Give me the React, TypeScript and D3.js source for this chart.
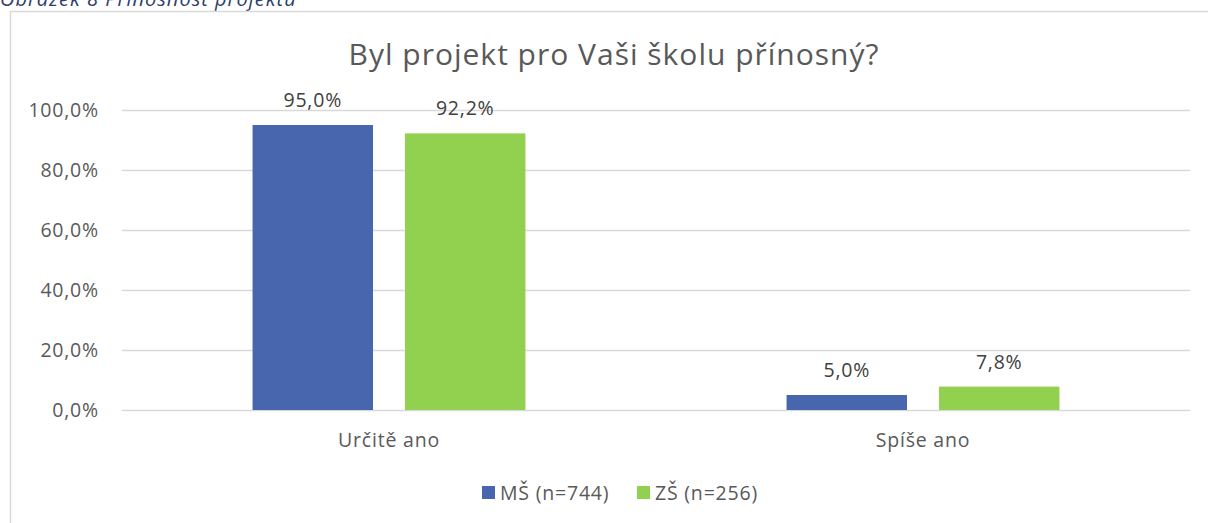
import React, { useEffect, useRef } from 'react';
import * as d3 from 'd3';

const categories = ['Určitě ano', 'Spíše ano'];
const seriesNames = ['MŠ (n=744)', 'ZŠ (n=256)'];
const msValues = [95.0, 5.0];
const zsValues = [92.2, 7.8];
const yTicks = [0, 20, 40, 60, 80, 100];
const colors = ['#4866ad', '#92d050'];

const width = 1208;
const height = 523;
const font = '"Open Sans", "Noto Sans", sans-serif';
const fs = 19.5;
const ls = 0.8;

const App = () => {
	const ref = useRef(null);

	useEffect(() => {
		if (!ref.current) return;
		const svg = d3.select(ref.current);
		svg.selectAll('*').remove();

		const m = { l: 122, r: 18, t: 110, b: 113 };
		const plotW = width - m.l - m.r;
		const plotH = height - m.t - m.b;

		// caption above chart (cut off at the top like the source)
		svg.append('text')
			.attr('x', 0)
			.attr('y', 6)
			.attr('font-family', font)
			.attr('font-style', 'italic')
			.attr('font-size', 20)
			.attr('letter-spacing', 1)
			.attr('fill', '#2f3e6b')
			.text('Obrázek 8 Přínosnost projektu');

		// chart frame
		svg.append('rect')
			.attr('x', 10.5)
			.attr('y', 11.5)
			.attr('width', 1220)
			.attr('height', 530)
			.attr('fill', '#fff')
			.attr('stroke', '#d9d9d9')
			.attr('stroke-width', 1.5);

		svg.append('text')
			.attr('x', 614)
			.attr('y', 65)
			.attr('text-anchor', 'middle')
			.attr('font-family', font)
			.attr('font-size', 30)
			.attr('letter-spacing', 1)
			.attr('fill', '#595959')
			.text('Byl projekt pro Vaši školu přínosný?');

		const x0 = d3.scaleBand().domain(categories).range([0, plotW]).paddingInner(0.489).paddingOuter(0.2445);
		const x1 = d3.scaleBand().domain(seriesNames).range([0, x0.bandwidth()]).paddingInner(0.21);
		const y = d3.scaleLinear().domain([0, 100]).range([plotH, 0]);

		const g = svg.append('g').attr('transform', `translate(${m.l},${m.t})`);

		g.selectAll('.grid')
			.data(yTicks)
			.join('line')
			.attr('x1', 0)
			.attr('x2', plotW)
			.attr('y1', d => Math.round(y(d)) + 0.5)
			.attr('y2', d => Math.round(y(d)) + 0.5)
			.attr('stroke', '#d9d9d9')
			.attr('stroke-width', 1.5);

		g.selectAll('.ytick')
			.data(yTicks)
			.join('text')
			.attr('x', -23)
			.attr('y', d => y(d) + 6.5)
			.attr('text-anchor', 'end')
			.attr('font-family', font)
			.attr('font-size', fs)
			.attr('letter-spacing', ls)
			.attr('fill', '#595959')
			.text(d => d.toFixed(1).replace('.', ',') + '%');

		const series = [msValues, zsValues];
		categories.forEach((c, ci) => {
			series.forEach((vals, si) => {
				const bx = x0(c) + x1(seriesNames[si]);
				const v = vals[ci];
				g.append('rect')
					.attr('x', bx)
					.attr('y', y(v))
					.attr('width', x1.bandwidth())
					.attr('height', plotH - y(v))
					.attr('fill', colors[si]);
				g.append('text')
					.attr('x', bx + x1.bandwidth() / 2)
					.attr('y', y(v) - 18)
					.attr('text-anchor', 'middle')
					.attr('font-family', font)
					.attr('font-size', fs)
					.attr('letter-spacing', ls)
					.attr('fill', '#404040')
					.text(v.toFixed(1).replace('.', ',') + '%');
			});
		});

		g.selectAll('.xlab')
			.data(categories)
			.join('text')
			.attr('x', d => x0(d) + x0.bandwidth() / 2)
			.attr('y', plotH + 37)
			.attr('text-anchor', 'middle')
			.attr('font-family', font)
			.attr('font-size', fs)
			.attr('letter-spacing', ls)
			.attr('fill', '#595959')
			.text(d => d);

		// legend
		const legendX = [482, 637];
		seriesNames.forEach((s, i) => {
			svg.append('rect')
				.attr('x', legendX[i])
				.attr('y', 486)
				.attr('width', 13)
				.attr('height', 13)
				.attr('fill', colors[i]);
			svg.append('text')
				.attr('x', legendX[i] + 18)
				.attr('y', 500)
				.attr('font-family', font)
				.attr('font-size', fs)
				.attr('letter-spacing', ls)
				.attr('fill', '#595959')
				.text(s);
		});
	}, []);

	return (
		<svg
			ref={ref}
			width={width}
			height={height}
			style={{ position: 'absolute', left: 0, top: 0, display: 'block', background: '#fff' }}
		/>
	);
};

export default App;
